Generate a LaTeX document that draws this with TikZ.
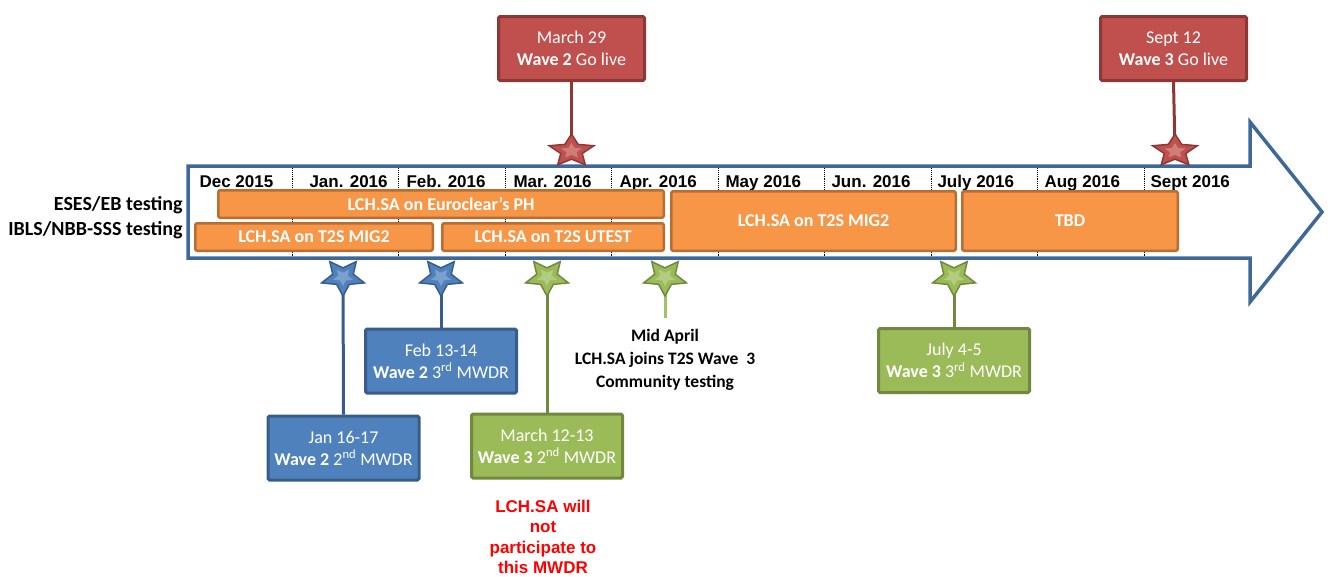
\documentclass[tikz,border=0pt]{standalone}
\usepackage{fontspec}
\setmainfont{Carlito}
\newfontfamily\arialf{Liberation Sans}
\definecolor{arrowblue}{RGB}{62,104,154}
\definecolor{ofill}{RGB}{247,150,70}
\definecolor{oborder}{RGB}{184,110,50}
\definecolor{redf}{RGB}{192,80,77}
\definecolor{redb}{RGB}{140,56,54}
\definecolor{bluef}{RGB}{79,129,189}
\definecolor{blueb}{RGB}{56,93,138}
\definecolor{greenf}{RGB}{155,187,89}
\definecolor{greenb}{RGB}{113,137,63}
\definecolor{lightgreen}{RGB}{160,196,98}
\begin{document}
\begin{tikzpicture}[x=1pt,y=-1pt,
  obox/.style={draw=oborder, fill=ofill, line width=2.5pt, rounded corners=2pt, inner sep=0pt, text=white, font=\bfseries\fontsize{18}{20}\selectfont},
  mbox/.style={line width=3pt, rounded corners=1.5pt, text=white, align=center, inner sep=0pt, font=\fontsize{18}{22}\selectfont},
  redbox/.style={mbox, draw=redb, fill=redf, minimum width=146pt, minimum height=64pt},
  bluebox/.style={mbox, draw=blueb, fill=bluef, minimum width=151pt, minimum height=64pt},
  greenbox/.style={mbox, draw=greenb, fill=greenf, minimum width=151pt, minimum height=64pt},
  month/.style={anchor=base west, font=\arialf\bfseries\fontsize{17}{20}\selectfont},
  side/.style={anchor=base east, font=\bfseries\fontsize{20}{22}\selectfont},
  tick/.style={densely dotted, line width=0.9pt, black},
  redline/.style={draw=redb, line width=3pt},
  blueline/.style={draw=blueb, line width=3pt},
  greenline/.style={draw=greenb, line width=3pt},
  pics/ustar/.style={code={
    \path[pic actions] (270:1) \foreach \k in {1,...,9}{ -- ({270+36*\k}:{1-0.52*mod(\k,2)}) } -- cycle;}},
  pics/dstar/.style={code={
    \path[pic actions] (90:1) \foreach \k in {1,...,9}{ -- ({90+36*\k}:{1-0.52*mod(\k,2)}) } -- cycle;}},
  upstarsty/.style={xscale=23.5, yscale=17, line width=1.5pt, line join=miter},
  dnstarsty/.style={xscale=22.5, yscale=19, line width=1.5pt, line join=miter},
]
\useasboundingbox (0,0) rectangle (1330,576);
% timeline arrow
\draw[arrowblue, line width=3.5pt, fill=white, line join=miter]
  (188,166) -- (1250,166) -- (1250,122) -- (1322,212) -- (1250,302) -- (1250,258) -- (188,258) -- cycle;
\foreach \x in {292,398.5,505,611.5,718,824.5,931,1037.5,1144}
  \draw[tick] (\x,168) -- (\x,256);
% month labels
\node[month] (m1) at (196,187) {Dec 2015};
\node[month] (m2) at (306,187) {Jan. 2016};
\node[month] (m3) at (403,187) {Feb. 2016};
\node[month] (m4) at (510,187) {Mar. 2016};
\node[month] (m5) at (616,187) {Apr. 2016};
\node[month] (m6) at (722,187) {May 2016};
\node[month] (m7) at (828,187) {Jun. 2016};
\node[month] (m8) at (934,187) {July 2016};
\node[month] (m9) at (1041,187) {Aug 2016};
\node[month] (m10) at (1147,187) {Sept 2016};
% side labels
\node[side] (l1) at (186,210) {ESES/EB testing};
\node[side] (l2) at (186,235) {IBLS/NBB-SSS testing};
% orange bars
\node[obox, minimum width=445.5pt, minimum height=27.5pt] (o1) at (441,204) {LCH.SA on Euroclear's PH};
\node[obox, minimum width=237.5pt, minimum height=27.5pt] (o2) at (314,237) {LCH.SA on T2S MIG2};
\node[obox, minimum width=221.5pt, minimum height=27.5pt] (o3) at (553,237) {LCH.SA on T2S UTEST};
\node[obox, minimum width=284.5pt, minimum height=59.5pt] (o4) at (813.5,221) {LCH.SA on T2S MIG2};
\node[obox, minimum width=215.5pt, minimum height=59.5pt] (o5) at (1070,221) {TBD};
% boxes
\node[redbox] (b1) at (571.5,48.5) {March 29\\\textbf{Wave 2} Go live};
\node[redbox] (b2) at (1173.5,48.5) {Sept 12\\\textbf{Wave 3} Go live};
\node[bluebox] (b3) at (343.5,448) {Jan 16-17\\\textbf{Wave 2} 2\textsuperscript{nd} MWDR};
\node[bluebox] (b4) at (441,361) {Feb 13-14\\\textbf{Wave 2} 3\textsuperscript{rd} MWDR};
\node[greenbox] (b5) at (547,446) {March 12-13\\\textbf{Wave 3} 2\textsuperscript{nd} MWDR};
\node[greenbox] (b6) at (954,360.5) {July 4-5\\\textbf{Wave 3} 3\textsuperscript{rd} MWDR};
% star centres
\coordinate (s1) at (571.5,151);
\coordinate (s2) at (1175,151);
\coordinate (s3) at (343,277);
\coordinate (s4) at (441,277);
\coordinate (s5) at (547,277);
\coordinate (s6) at (665,277);
\coordinate (s7) at (954,277);
\coordinate (e6) at (665,318);
% connectors
\draw[redline] (b1.south) -- (s1);
\draw[redline] (b2.south) -- (s2);
\draw[blueline] (s3) -- (b3.north);
\draw[blueline] (s4) -- (b4.north);
\draw[greenline] (s5) -- (b5.north);
\draw[greenline] (s7) -- (b6.north);
\draw[draw=lightgreen, line width=3pt] (s6) -- (e6);
% stars
\foreach \s in {s1,s2}{
  \pic[upstarsty, draw=redb, fill=redf] at (\s) {ustar};
  \pic[xscale=11, yscale=8, fill=redf!75!white] at (\s) {ustar};}
\foreach \s in {s3,s4}{
  \pic[dnstarsty, draw=blueb, fill=bluef] at (\s) {dstar};
  \pic[xscale=10.5, yscale=9, fill=bluef!75!white] at (\s) {dstar};}
\foreach \s in {s5,s6,s7}{
  \pic[dnstarsty, draw=greenb, fill=greenf] at (\s) {dstar};
  \pic[xscale=10.5, yscale=9, fill=greenf!75!white] at (\s) {dstar};}
% texts
\node[align=center, font=\bfseries\fontsize{17.5}{23}\selectfont] (t1) at (665,360) {Mid April\\LCH.SA joins T2S Wave\ \ 3\\Community testing};
\node[align=center, text=red, font=\arialf\bfseries\fontsize{17}{20.5}\selectfont] (t2) at (543,537) {LCH.SA will\\not\\participate to\\this MWDR};
\end{tikzpicture}
\end{document}
